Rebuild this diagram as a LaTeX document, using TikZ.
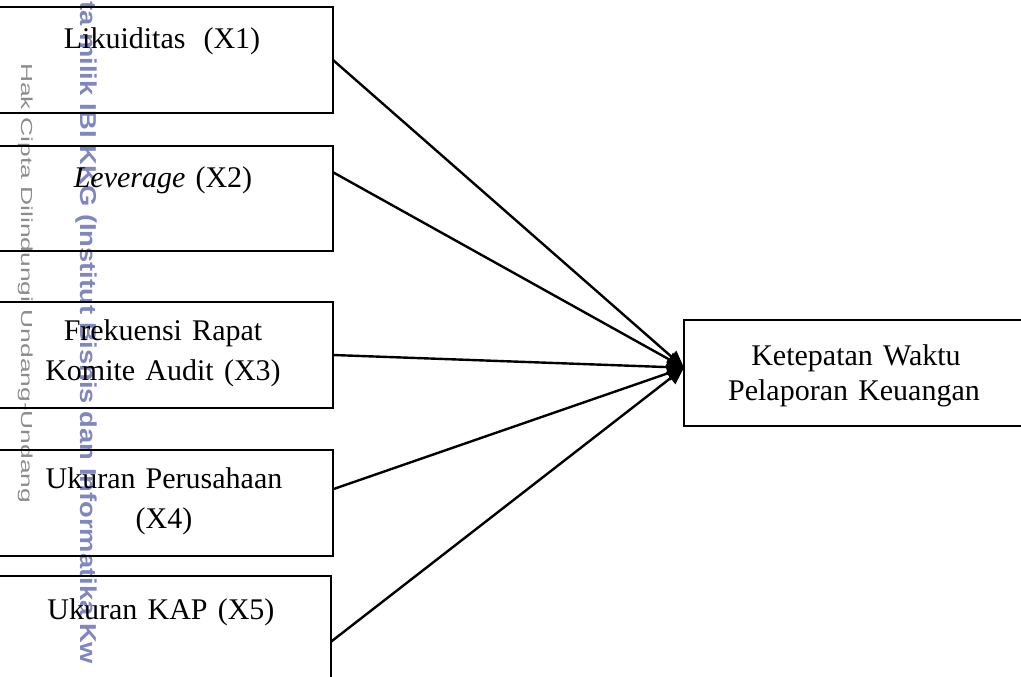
\documentclass[tikz,border=0pt]{standalone}
\usepackage{graphicx}
\usepackage{fontspec}
\setmainfont{Liberation Serif}
\newfontfamily\wmsans{Liberation Sans}
\usetikzlibrary{arrows.meta,calc}
\definecolor{wmblue}{RGB}{128,134,190}
\definecolor{wmgray}{RGB}{140,140,140}
\newcommand\bxfont{\fontsize{30}{30}\selectfont\spaceskip=0.34em\relax}
\begin{document}
\begin{tikzpicture}[x=1pt,y=-1pt,
  box/.style={draw,line width=2.4pt,inner sep=0pt,outer sep=0pt,rectangle},
  lbl/.style={inner sep=0pt,anchor=base,font=\bxfont},
  conn/.style={line width=2.4pt,-{Triangle[length=17pt,width=15pt]}},
  wm/.style={inner sep=0pt,anchor=base west,rotate=-90}]
\useasboundingbox (0,0) rectangle (1021,677);
\clip (0,0) rectangle (1021,677);
% watermark
\node[wm,text=wmgray,font=\wmsans\fontsize{16}{16}\selectfont] (wm1) at (21.7,63)
  {\scalebox{1.65}[1]{Hak Cipta Dilindungi Undang-Undang}};
\node[wm,text=wmblue,font=\wmsans\bfseries\fontsize{23}{23}\selectfont] (wm2) at (80,1)
  {\scalebox{1.19}[1]{ta milik IBI KKG (Institut Bisnis dan Informatika Kw}};
% boxes
\node[box,minimum width=340pt,minimum height=106pt] (b1) at (163,60) {};
\node[box,minimum width=340pt,minimum height=105pt] (b2) at (163,198.5) {};
\node[box,minimum width=340pt,minimum height=106pt] (b3) at (163,355) {};
\node[box,minimum width=340pt,minimum height=106pt] (b4) at (163,503) {};
\node[box,minimum width=338pt,minimum height=106pt] (b5) at (162,629) {};
\node[box,minimum width=346pt,minimum height=106pt] (r) at (857,373) {};
% labels
\node[lbl] (t1) at (162,49) {Likuiditas\hskip0.6em(X1)};
\node[lbl] (t2) at (163,187) {\textit{Leverage} (X2)};
\node[lbl] (t3a) at (163,340) {Frekuensi Rapat};
\node[lbl] (t3b) at (163,380) {Komite Audit (X3)};
\node[lbl] (t4a) at (164,488) {Ukuran Perusahaan};
\node[lbl] (t4b) at (164,528) {(X4)};
\node[lbl] (t5) at (161,619) {Ukuran KAP (X5)};
\node[lbl] (r1) at (856,365) {Ketepatan Waktu};
\node[lbl] (r2) at (854,400) {Pelaporan Keuangan};
% connectors
\coordinate (tip) at ($(r.north west)!0.45!(r.south west)$);
\draw[conn] (b1.east) -- (tip);
\draw[conn] ($(b2.north east)!0.25!(b2.south east)$) -- (tip);
\draw[conn] (b3.east) -- (tip);
\draw[conn] ($(b4.north east)!0.37!(b4.south east)$) -- (tip);
\draw[conn] ($(b5.north east)!0.62!(b5.south east)$) -- (tip);
\end{tikzpicture}
\end{document}
